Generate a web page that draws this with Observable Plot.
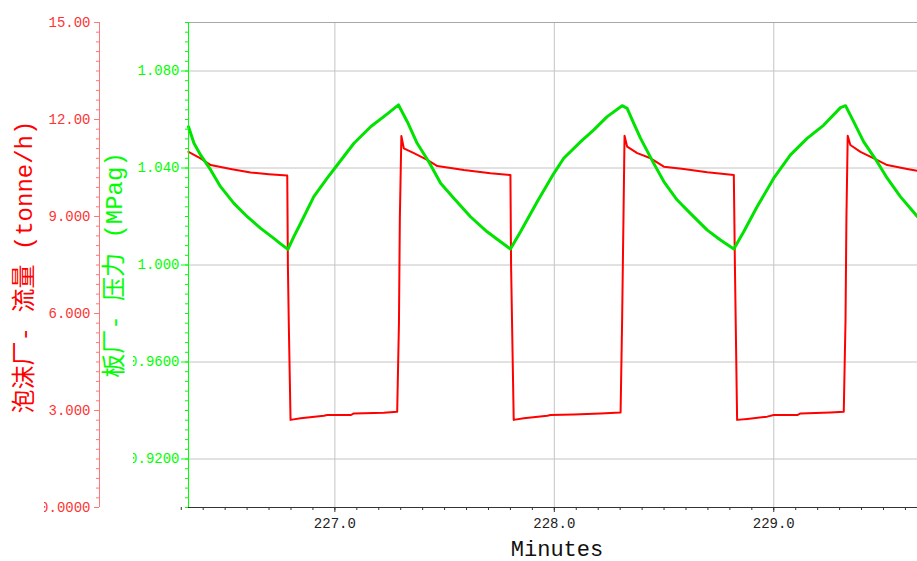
<!DOCTYPE html>
<html>
<head>
<meta charset="utf-8">
<script src="https://cdn.jsdelivr.net/npm/d3@7"></script>
<script src="https://cdn.jsdelivr.net/npm/@observablehq/plot@0.6"></script>
<style>
  html, body { margin: 0; padding: 0; background: #ffffff; }
  #chart svg { display: block; }
</style>
</head>
<body>
<div id="chart"></div>
<script>
// ---------------- data ----------------
const flowTime = [226.333, 226.388, 226.434, 226.525, 226.616, 226.699, 226.783, 226.786, 226.790, 226.798,
  226.844, 226.950, 226.965, 227.072, 227.087, 227.223, 227.284, 227.292, 227.296, 227.303,
  227.314, 227.360, 227.421, 227.467, 227.588, 227.709, 227.800, 227.803, 227.815, 227.861,
  227.968, 227.983, 228.089, 228.210, 228.302, 228.309, 228.315, 228.320, 228.332, 228.378,
  228.439, 228.499, 228.590, 228.697, 228.818, 228.823, 228.833, 228.879, 228.970, 229.000,
  229.107, 229.122, 229.258, 229.319, 229.327, 229.331, 229.337, 229.349, 229.395, 229.456,
  229.517, 229.608, 229.655];
const flowValue = [11.00, 10.80, 10.59, 10.47, 10.36, 10.31, 10.27, 7.45, 5.70, 2.71,
  2.76, 2.84, 2.86, 2.86, 2.91, 2.93, 2.96, 5.70, 8.89, 11.49,
  11.11, 10.96, 10.75, 10.56, 10.44, 10.34, 10.28, 7.45, 2.71, 2.76,
  2.84, 2.86, 2.88, 2.91, 2.94, 5.80, 8.89, 11.50, 11.16, 10.96,
  10.80, 10.54, 10.47, 10.37, 10.28, 7.45, 2.71, 2.74, 2.81, 2.86,
  2.86, 2.91, 2.94, 2.96, 5.80, 8.89, 11.50, 11.21, 11.00, 10.80,
  10.59, 10.47, 10.41];

const pressTime = [226.333, 226.358, 226.388, 226.434, 226.479, 226.540, 226.601, 226.662, 226.722, 226.753,
  226.786, 226.813, 226.844, 226.904, 226.965, 227.003, 227.087, 227.163, 227.239, 227.290,
  227.330, 227.375, 227.428, 227.482, 227.542, 227.618, 227.694, 227.755, 227.800, 227.846,
  227.922, 227.998, 228.043, 228.119, 228.180, 228.241, 228.309, 228.332, 228.362, 228.393,
  228.453, 228.499, 228.560, 228.620, 228.697, 228.757, 228.818, 228.863, 228.924, 229.000,
  229.076, 229.152, 229.228, 229.304, 229.327, 229.364, 229.410, 229.471, 229.517, 229.577,
  229.655];
const pressValue = [1.0570, 1.0502, 1.0454, 1.0392, 1.0323, 1.0254, 1.0199, 1.0151, 1.0110, 1.0087,
  1.0065, 1.0117, 1.0172, 1.0282, 1.0358, 1.0403, 1.0502, 1.0570, 1.0623, 1.0660,
  1.0591, 1.0502, 1.0426, 1.0337, 1.0275, 1.0199, 1.0137, 1.0096, 1.0066, 1.0137,
  1.0261, 1.0378, 1.0440, 1.0508, 1.0557, 1.0612, 1.0657, 1.0646, 1.0584, 1.0522,
  1.0419, 1.0344, 1.0268, 1.0213, 1.0144, 1.0103, 1.0066, 1.0137, 1.0240, 1.0358,
  1.0454, 1.0522, 1.0577, 1.0649, 1.0657, 1.0591, 1.0508, 1.0426, 1.0358, 1.0282,
  1.0199];

const xDomain = [226.333, 229.655];
const pressDomain = [0.9, 1.1];
const flowDomain = [0, 15];

const xTicks = [227, 228, 229];
const xTickLabels = ["227.0", "228.0", "229.0"];
const flowTicks = [0, 3, 6, 9, 12, 15];
const flowTickLabels = ["0.0000", "3.000", "6.000", "9.000", "12.00", "15.00"];
const pressTicks = [0.92, 0.96, 1.00, 1.04, 1.08];
const pressTickLabels = ["0.9200", "0.9600", "1.000", "1.040", "1.080"];

const xTitle = "Minutes";
const flowTitle = "泡沫厂- 流量 (tonne/h)";
const pressTitle = "板厂- 压力 (MPag)";

// ---------------- layout / style ----------------
const W = 917, H = 561;
const M = {left: 188, right: 0, top: 22, bottom: 54};
const redAxisShift = -89;        // red axis sits left of the frame
const monoFont = "'Liberation Mono', 'DejaVu Sans Mono', monospace";
const titleFont = "'Liberation Mono', 'Noto Sans CJK SC', sans-serif";
const RED = "#ff0000", GREEN_LINE = "#00e200", GREEN = "#00ff00";

// map flow values onto the pressure (plot) scale
const toP = v => pressDomain[0] + (v - flowDomain[0]) / (flowDomain[1] - flowDomain[0]) * (pressDomain[1] - pressDomain[0]);

const flowData = flowTime.map((t, i) => ({t, v: flowValue[i]}));
const pressData = pressTime.map((t, i) => ({t, v: pressValue[i]}));

const flowTickPos = flowTicks.map(toP);
const flowLabelMap = new Map(flowTickPos.map((p, i) => [p, flowTickLabels[i]]));
const pressLabelMap = new Map(pressTicks.map((p, i) => [p, pressTickLabels[i]]));
const xLabelMap = new Map(xTicks.map((p, i) => [p, xTickLabels[i]]));

const flowMinor = d3.range(0, 51).map(i => toP(i * 0.3));
const pressMinor = d3.range(0, 51).map(i => 0.9 + i * 0.004);
const xMinor = d3.range(2263, 2297).map(i => i / 10);

const chart = Plot.plot({
  width: W, height: H,
  marginLeft: M.left, marginRight: M.right, marginTop: M.top, marginBottom: M.bottom,
  x: {domain: xDomain},
  y: {domain: pressDomain},
  style: {fontFamily: monoFont, background: "#ffffff", color: "#222"},
  marks: [
    Plot.gridX(xTicks, {stroke: "#c4c4c4", strokeOpacity: 1}),
    Plot.gridY(pressTicks, {stroke: "#c4c4c4", strokeOpacity: 1}),
    Plot.ruleY([pressDomain[1]], {stroke: "#a8a8a8"}),
    // red (flow) axis
    Plot.ruleX([xDomain[0]], {stroke: "#ff7777", dx: redAxisShift}),
    Plot.axisY(flowMinor, {dx: redAxisShift, tickSize: 3, stroke: "#ff7777", fill: "none", label: null}),
    Plot.axisY(flowTickPos, {dx: redAxisShift, tickSize: 5, tickPadding: 4, stroke: "#ff7777", fill: "#ff3333",
      fontSize: 14, fontFamily: monoFont, tickFormat: d => flowLabelMap.get(d), label: null}),
    // green (pressure) axis
    Plot.axisY(pressMinor, {tickSize: 3, stroke: GREEN, fill: "none", label: null}),
    Plot.axisY(pressTicks, {tickSize: 7, tickPadding: 2, stroke: GREEN, fill: GREEN,
      fontSize: 14, fontFamily: monoFont, tickFormat: d => pressLabelMap.get(d), label: null}),
    // x axis
    Plot.axisX(xMinor, {tickSize: 3, stroke: "#333", fill: "none", label: null}),
    Plot.axisX(xTicks, {tickSize: 5, tickPadding: 6, stroke: "#333", fill: "#222",
      fontSize: 14, fontFamily: monoFont, tickFormat: d => xLabelMap.get(d), label: null}),
    // series
    Plot.line(flowData, {x: "t", y: d => toP(d.v), stroke: RED, strokeWidth: 2}),
    Plot.line(pressData, {x: "t", y: "v", stroke: GREEN_LINE, strokeWidth: 3}),
    // frame edges
    Plot.ruleX([xDomain[0]], {stroke: GREEN}),
    Plot.ruleY([pressDomain[0]], {stroke: "#333"}),
    // titles
    Plot.text([xTitle], {frameAnchor: "bottom", dy: 48, dx: 4, fontSize: 22, fontFamily: monoFont, fill: "#111"}),
    Plot.text([flowTitle], {frameAnchor: "left", textAnchor: "middle", dx: -164, dy: 2, rotate: -90,
      fontSize: 24, fontFamily: titleFont, fill: RED}),
    Plot.text([pressTitle], {frameAnchor: "left", textAnchor: "middle", dx: -74, rotate: -90,
      fontSize: 24, fontFamily: titleFont, fill: GREEN})
  ]
});

document.getElementById("chart").appendChild(chart);

// clip the y tick labels on the left like the original axis panels
const svg = d3.select(chart);
const defs = svg.append("defs");
defs.append("clipPath").attr("id", "clipFlowLabels")
  .append("rect").attr("x", M.left + redAxisShift - 55).attr("y", 0).attr("width", W).attr("height", H);
defs.append("clipPath").attr("id", "clipPressLabels")
  .append("rect").attr("x", M.left - 55).attr("y", 0).attr("width", W).attr("height", H);
const labelGroups = svg.selectAll('g[aria-label="y-axis tick label"]').nodes();
["clipFlowLabels", "clipPressLabels"].forEach((id, i) => {
  const g = labelGroups[i];
  if (!g) return;
  const wrap = document.createElementNS("http://www.w3.org/2000/svg", "g");
  g.parentNode.insertBefore(wrap, g);
  wrap.appendChild(g);
  wrap.setAttribute("clip-path", `url(#${id})`);
});
</script>
</body>
</html>
